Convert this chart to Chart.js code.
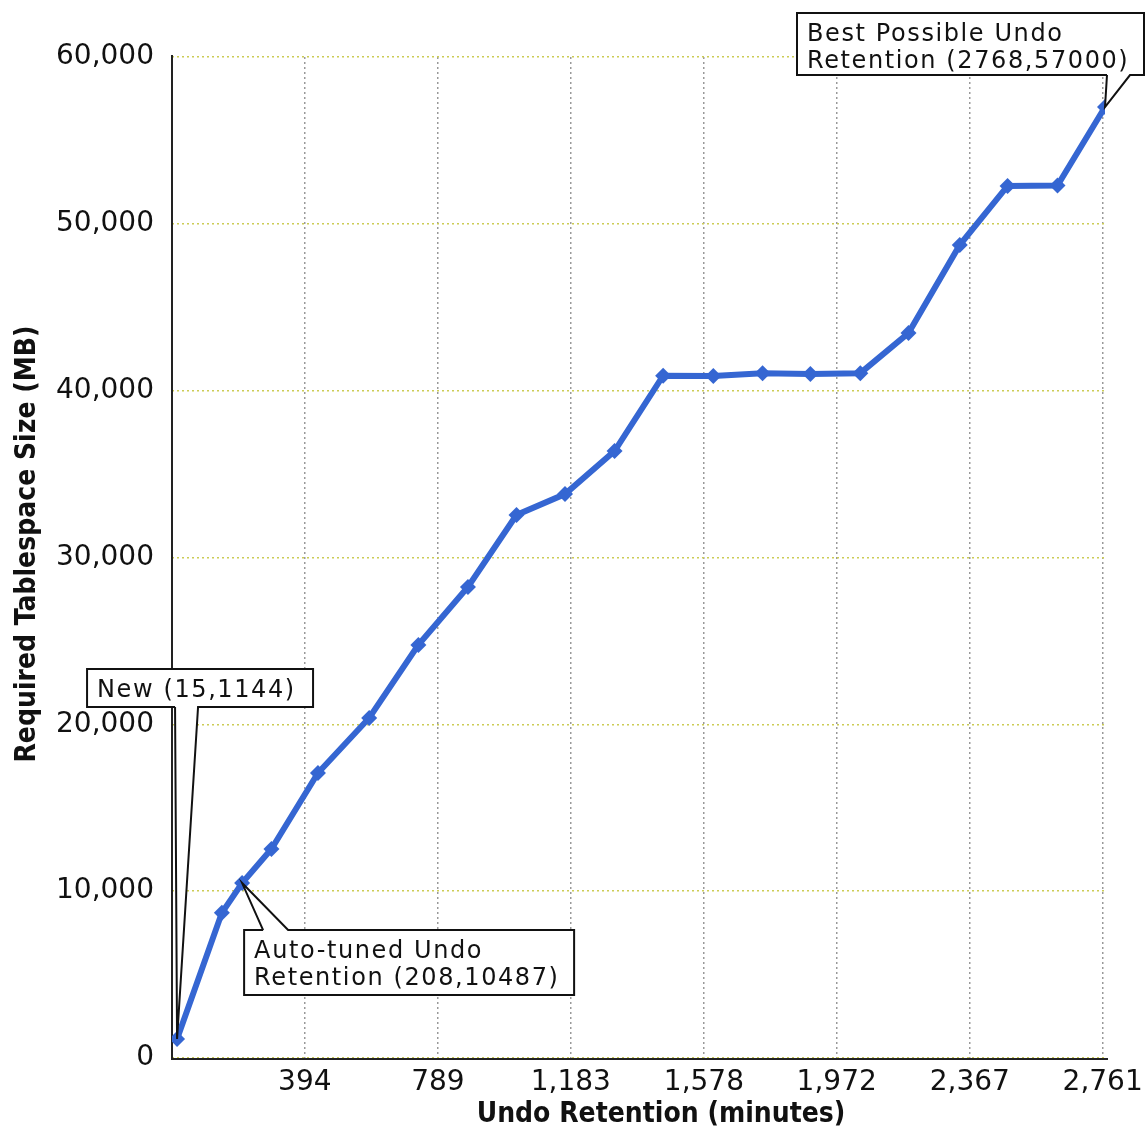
<!DOCTYPE html>
<html>
<head>
<meta charset="utf-8">
<script src="https://cdn.jsdelivr.net/npm/chart.js@4/dist/chart.umd.min.js"></script>
<style>
html,body{margin:0;padding:0;background:#fff;}
#wrap{width:1147px;height:1130px;position:relative;}
</style>
</head>
<body>
<div id="wrap"><canvas id="c" width="1147" height="1130"></canvas></div>
<script>
// Data
const retentionMinutes = [15, 148, 208, 295, 433, 585, 731, 878, 1022, 1166, 1313, 1457, 1606, 1752, 1894, 2042, 2185, 2337, 2479, 2627, 2768];
const tablespaceMB   = [1144, 8700, 10487, 12530, 17080, 20380, 24760, 28230, 32550, 33800, 36380, 40900, 40880, 41050, 41000, 41050, 43460, 48730, 52270, 52300, 57000];
const xTickValues = [394, 789, 1183, 1578, 1972, 2367, 2761];
const yTickValues = [0, 10000, 20000, 30000, 40000, 50000, 60000];
const xTitle = 'Undo Retention (minutes)';
const yTitle = 'Required Tablespace Size (MB)';
const calloutIndex = [0, 2, 20];
const calloutText = [
  ['New (15,1144)'],
  ['Auto-tuned Undo', 'Retention (208,10487)'],
  ['Best Possible Undo', 'Retention (2768,57000)']
];

const points = retentionMinutes.map((x, i) => ({x: x, y: tablespaceMB[i]}));
const fmt = v => Number(v).toLocaleString('en-US');
const tickFont = {family: 'DejaVu Sans', size: 28};

// callout geometry: box offsets relative to the point pixel, pointer base x offsets
const calloutLayout = [
  {dx: -90, dy: -370, w: 226, h: 38, side: 'bottom', p1: -2, p2: 21},
  {dx: 2, dy: 47, w: 330, h: 65, side: 'top', p1: 21, p2: 46},
  {dx: -308, dy: -94, w: 347, h: 62, side: 'bottom', p1: 2, p2: 25}
];

const axesPlugin = {
  id: 'axesLines',
  beforeDatasetsDraw(chart) {
    const {ctx, chartArea: a} = chart;
    ctx.save();
    ctx.strokeStyle = '#222';
    ctx.lineWidth = 2;
    ctx.setLineDash([]);
    ctx.beginPath();
    ctx.moveTo(a.left, a.top - 2);
    ctx.lineTo(a.left, a.bottom + 1);
    ctx.lineTo(a.right + 3, a.bottom + 1);
    ctx.stroke();
    ctx.restore();
  },
  afterDraw(chart) {
    const {ctx} = chart;
    ctx.save();
    ctx.fillStyle = '#111';
    ctx.font = 'bold 28px "DejaVu Sans Condensed"';
    ctx.textAlign = 'center';
    ctx.textBaseline = 'middle';
    ctx.fillText(xTitle, 661, 1115);
    ctx.translate(28, 544);
    ctx.rotate(-Math.PI / 2);
    ctx.fillText(yTitle, 0, 0);
    ctx.restore();
  }
};

const calloutPlugin = {
  id: 'callouts',
  afterDatasetsDraw(chart) {
    const {ctx} = chart;
    const xs = chart.scales.x, ys = chart.scales.y;
    ctx.save();
    calloutIndex.forEach((idx, k) => {
      const px = xs.getPixelForValue(retentionMinutes[idx]);
      const py = ys.getPixelForValue(tablespaceMB[idx]);
      const L = calloutLayout[k];
      const bx = px + L.dx, by = py + L.dy;
      const baseY = L.side === 'bottom' ? by + L.h : by;
      ctx.fillStyle = '#fff';
      ctx.fillRect(bx, by, L.w, L.h);
      ctx.beginPath();
      ctx.moveTo(px + L.p1, baseY);
      ctx.lineTo(px, py);
      ctx.lineTo(px + L.p2, baseY);
      ctx.closePath();
      ctx.fill();
      ctx.strokeStyle = '#111';
      ctx.lineWidth = 2;
      ctx.setLineDash([]);
      ctx.beginPath();
      if (L.side === 'bottom') {
        ctx.moveTo(px + L.p1, baseY);
        ctx.lineTo(bx, by + L.h);
        ctx.lineTo(bx, by);
        ctx.lineTo(bx + L.w, by);
        ctx.lineTo(bx + L.w, by + L.h);
        ctx.lineTo(px + L.p2, baseY);
      } else {
        ctx.moveTo(px + L.p1, baseY);
        ctx.lineTo(bx, by);
        ctx.lineTo(bx, by + L.h);
        ctx.lineTo(bx + L.w, by + L.h);
        ctx.lineTo(bx + L.w, by);
        ctx.lineTo(px + L.p2, baseY);
      }
      ctx.lineTo(px, py);
      ctx.lineTo(px + L.p1, baseY);
      ctx.stroke();
      ctx.fillStyle = '#111';
      ctx.font = '24px "DejaVu Sans"';
      try { ctx.letterSpacing = '1.6px'; } catch (e) {}
      ctx.textBaseline = 'alphabetic';
      ctx.textAlign = 'left';
      calloutText[k].forEach((t, j) => {
        ctx.fillText(t, bx + 10, by + 28 + j * 27);
      });
      try { ctx.letterSpacing = '0px'; } catch (e) {}
    });
    ctx.restore();
  }
};

new Chart(document.getElementById('c'), {
  type: 'line',
  data: {
    datasets: [{
      data: points,
      borderColor: '#3566d2',
      backgroundColor: '#3566d2',
      borderWidth: 6,
      pointStyle: 'rectRot',
      pointRadius: 8,
      pointBorderWidth: 0,
      tension: 0,
      fill: false
    }]
  },
  options: {
    responsive: false,
    animation: false,
    events: [],
    layout: {padding: {top: 57, right: 42, left: 0, bottom: 0}},
    plugins: {legend: {display: false}, tooltip: {enabled: false}},
    scales: {
      x: {
        type: 'linear',
        min: 0,
        max: 2768,
        afterBuildTicks: s => { s.ticks = xTickValues.map(v => ({value: v})); },
        afterFit: s => { s.height = 72; s.paddingRight = 0; s.paddingLeft = 0; },
        ticks: {
          callback: v => fmt(v),
          font: tickFont,
          color: '#111',
          padding: 8,
          maxRotation: 0,
          autoSkip: false
        },
        grid: {color: '#999999', lineWidth: 1.5, drawTicks: false},
        border: {display: false, dash: [2, 3]},
        title: {display: false}
      },
      y: {
        type: 'linear',
        min: 0,
        max: 60000,
        afterBuildTicks: s => { s.ticks = yTickValues.map(v => ({value: v})); },
        afterFit: s => { s.width = 172; s.paddingTop = 0; s.paddingBottom = 0; },
        ticks: {
          callback: v => fmt(v),
          font: tickFont,
          color: '#111',
          padding: 18
        },
        grid: {color: '#cccc55', lineWidth: 1.5, drawTicks: false},
        border: {display: false, dash: [2, 3]},
        title: {display: false}
      }
    }
  },
  plugins: [axesPlugin, calloutPlugin]
});
</script>
</body>
</html>
